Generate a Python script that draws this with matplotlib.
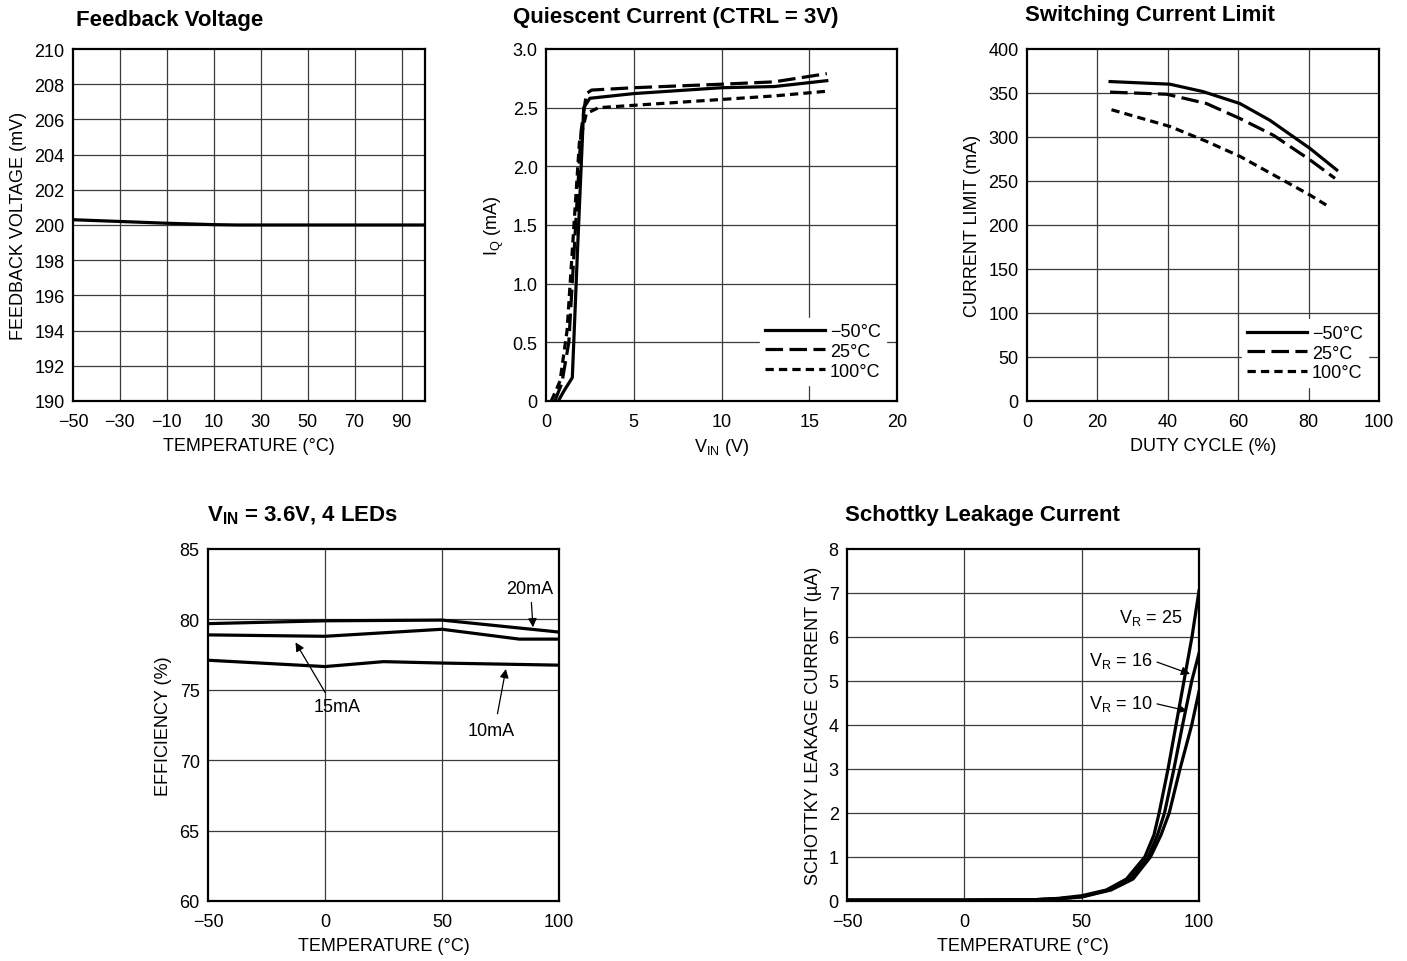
import matplotlib
matplotlib.use('Agg')
import matplotlib.pyplot as plt
import numpy as np

plt.rcParams['font.family'] = ['Liberation Sans Narrow', 'Liberation Sans', 'DejaVu Sans']
plt.rcParams['mathtext.fontset'] = 'custom'
plt.rcParams['mathtext.rm'] = 'Liberation Sans'
plt.rcParams['mathtext.it'] = 'Liberation Sans'
plt.rcParams['mathtext.bf'] = 'Liberation Sans:bold'

# --- Feedback voltage vs temperature
fb_temp = [-50, -30, -10, 10, 20, 30, 50, 70, 90, 100]
fb_volt = [200.3, 200.2, 200.1, 200.02, 200.0, 200.0, 200.0, 200.0, 200.0, 200.0]

# --- Quiescent current vs VIN
iq_vin_m50 = [0.7, 1.0, 1.5, 1.8, 2.15, 2.5, 5, 10, 13, 16]
iq_m50 = [0.0, 0.08, 0.2, 1.3, 2.5, 2.58, 2.62, 2.67, 2.68, 2.73]
iq_vin_25 = [0.5, 0.9, 1.3, 2.0, 2.3, 2.6, 5, 10, 13, 16]
iq_25 = [0.0, 0.15, 0.5, 2.3, 2.62, 2.65, 2.67, 2.7, 2.72, 2.79]
iq_vin_100 = [0.3, 0.8, 1.2, 1.9, 2.3, 3.0, 5, 10, 13, 16]
iq_100 = [0.0, 0.17, 0.6, 2.2, 2.45, 2.5, 2.52, 2.57, 2.6, 2.64]

# --- Switching current limit vs duty cycle
sw_duty = [23.6, 40.6, 50, 60.5, 69, 80.4, 88]
sw_m50 = [363, 360, 351.6, 338, 319, 287, 262.5]
sw_duty_25 = [23.6, 39.7, 51, 60.5, 70, 80.4, 87.5]
sw_25 = [351, 348.6, 338, 321, 302, 274, 253]
sw_duty_100 = [24, 40.6, 51, 60.5, 70, 80.4, 85]
sw_100 = [331, 312, 295, 278, 257, 234, 222.7]

# --- Efficiency vs temperature
eff_t20 = [-50, 0, 50, 100]
eff_20 = [79.7, 79.9, 79.95, 79.1]
eff_t15 = [-50, 0, 50, 83, 100]
eff_15 = [78.9, 78.8, 79.3, 78.6, 78.6]
eff_t10 = [-50, 0, 25, 50, 100]
eff_10 = [77.1, 76.65, 77.0, 76.9, 76.75]

# --- Schottky leakage vs temperature
sk_t25 = [-50, 0, 30, 40, 50, 60.5, 69.1, 76.9, 80.8, 83.0, 86.8, 90.2, 93.6, 97.0, 100]
sk_25 = [0.02, 0.02, 0.03, 0.06, 0.12, 0.25, 0.5, 1.0, 1.5, 2.0, 3.0, 4.0, 5.0, 6.0, 7.05]
sk_t16 = [-50, 0, 30, 40, 50, 61.5, 70.5, 78.3, 82.3, 85.3, 89.3, 93.0, 96.9, 100]
sk_16 = [0.02, 0.02, 0.03, 0.05, 0.1, 0.25, 0.5, 1.0, 1.5, 2.0, 3.0, 4.0, 5.0, 5.63]
sk_t10 = [-50, 0, 30, 40, 50, 62.5, 71.9, 79.3, 83.8, 87.3, 91.9, 96.9, 100]
sk_10 = [0.02, 0.02, 0.03, 0.05, 0.09, 0.25, 0.5, 1.0, 1.5, 2.0, 3.0, 4.0, 4.76]

W, H = 1407, 962
fig = plt.figure(figsize=(W / 100, H / 100), dpi=100)

LW = 2.3
GRID = dict(color='#3a3a3a', lw=0.9)
FS = 13
LONG = (0, (5.5, 2.0))
SHORT = (0, (2.6, 1.6))


def make_ax(left, top, right, bottom):
    ax = fig.add_axes([left / W, 1 - bottom / H, (right - left) / W, (bottom - top) / H])
    for s in ax.spines.values():
        s.set_linewidth(1.6)
    ax.tick_params(length=0, labelsize=FS)
    ax.tick_params(axis='x', pad=9)
    ax.tick_params(axis='y', pad=6)
    ax.set_axisbelow(True)
    return ax


def grid_lines(ax, xs, ys):
    for x in xs:
        ax.axvline(x, **GRID, zorder=0)
    for y in ys:
        ax.axhline(y, **GRID, zorder=0)


def title(x, y, s):
    fig.text(x / W, 1 - y / H, s, fontsize=16, fontweight='bold', ha='left', va='baseline')


# Panel 1
ax1 = make_ax(73, 50, 425, 402)
ax1.plot(fb_temp, fb_volt, color='black', lw=LW)
ax1.set_xlim(-50, 100)
ax1.set_ylim(190, 210)
ax1.set_xticks(range(-50, 91, 20))
ax1.set_xticklabels(['\u221250', '\u221230', '\u221210', '10', '30', '50', '70', '90'])
ax1.set_yticks(range(190, 211, 2))
grid_lines(ax1, range(-30, 91, 20), range(192, 210, 2))
ax1.set_xlabel('TEMPERATURE (\u00b0C)', fontsize=FS, labelpad=5)
ax1.set_ylabel('FEEDBACK VOLTAGE (mV)', fontsize=FS, labelpad=5)
title(76, 26, 'Feedback Voltage')

# Panel 2
ax2 = make_ax(546, 50, 897, 402)
ax2.plot(iq_vin_m50, iq_m50, color='black', lw=LW, label='\u221250\u00b0C')
ax2.plot(iq_vin_25, iq_25, color='black', lw=LW, ls=LONG, label='25\u00b0C')
ax2.plot(iq_vin_100, iq_100, color='black', lw=LW, ls=SHORT, label='100\u00b0C')
ax2.set_xlim(0, 20)
ax2.set_ylim(0, 3)
ax2.set_xticks([0, 5, 10, 15, 20])
ax2.set_yticks([0, 0.5, 1.0, 1.5, 2.0, 2.5, 3.0])
ax2.set_yticklabels(['0', '0.5', '1.0', '1.5', '2.0', '2.5', '3.0'])
grid_lines(ax2, [5, 10, 15], [0.5, 1.0, 1.5, 2.0, 2.5])
ax2.set_xlabel('V$_{\\mathregular{IN}}$ (V)', fontsize=FS, labelpad=4)
ax2.set_ylabel('I$_{\\mathregular{Q}}$ (mA)', fontsize=FS, labelpad=5)
leg = ax2.legend(loc='lower right', frameon=True, fontsize=FS, handlelength=3.3,
                 handletextpad=0.3, borderpad=0.3, labelspacing=0.15,
                 bbox_to_anchor=(0.995, 0.02), fancybox=False, framealpha=1)
leg.get_frame().set_edgecolor('white')
title(513, 23, 'Quiescent Current (CTRL = 3V)')

# Panel 3
ax3 = make_ax(1027, 50, 1379, 402)
ax3.plot(sw_duty, sw_m50, color='black', lw=LW, label='\u221250\u00b0C')
ax3.plot(sw_duty_25, sw_25, color='black', lw=LW, ls=LONG, label='25\u00b0C')
ax3.plot(sw_duty_100, sw_100, color='black', lw=LW, ls=SHORT, label='100\u00b0C')
ax3.set_xlim(0, 100)
ax3.set_ylim(0, 400)
ax3.set_xticks(range(0, 101, 20))
ax3.set_yticks(range(0, 401, 50))
grid_lines(ax3, [20, 40, 60, 80], range(50, 400, 50))
ax3.set_xlabel('DUTY CYCLE (%)', fontsize=FS, labelpad=5)
ax3.set_ylabel('CURRENT LIMIT (mA)', fontsize=FS, labelpad=5)
leg = ax3.legend(loc='lower right', frameon=True, fontsize=FS, handlelength=3.3,
                 handletextpad=0.3, borderpad=0.3, labelspacing=0.15,
                 bbox_to_anchor=(0.995, 0.015), fancybox=False, framealpha=1)
leg.get_frame().set_edgecolor('white')
title(1025, 21, 'Switching Current Limit')

# Panel 4
ax4 = make_ax(208, 550, 559, 902)
for t, e in [(eff_t20, eff_20), (eff_t15, eff_15), (eff_t10, eff_10)]:
    ax4.plot(t, e, color='black', lw=LW)
ax4.set_xlim(-50, 100)
ax4.set_ylim(60, 85)
ax4.set_xticks([-50, 0, 50, 100])
ax4.set_xticklabels(['\u221250', '0', '50', '100'])
ax4.set_yticks(range(60, 86, 5))
grid_lines(ax4, [0, 50], [65, 70, 75, 80])
ax4.set_xlabel('TEMPERATURE (\u00b0C)', fontsize=FS, labelpad=5)
ax4.set_ylabel('EFFICIENCY (%)', fontsize=FS, labelpad=5)
arr = dict(arrowstyle='-|>', color='black', lw=0.9, mutation_scale=13, shrinkA=0, shrinkB=0)
ax4.text(87.5, 82.2, '20mA', fontsize=FS, ha='center', va='center')
ax4.annotate('', xy=(88.9, 79.44), xytext=(88.2, 81.2), arrowprops=arr)
ax4.text(5.3, 73.8, '15mA', fontsize=FS, ha='center', va='center')
ax4.annotate('', xy=(-12.6, 78.37), xytext=(0.1, 74.8), arrowprops=arr)
ax4.text(70.9, 72.1, '10mA', fontsize=FS, ha='center', va='center')
ax4.annotate('', xy=(77.3, 76.48), xytext=(73.7, 73.3), arrowprops=arr)
title(207, 521, 'V$_{\\mathregular{IN}}$ = 3.6V, 4 LEDs')

# Panel 5
ax5 = make_ax(847, 550, 1199, 902)
for t, v in [(sk_t25, sk_25), (sk_t16, sk_16), (sk_t10, sk_10)]:
    ax5.plot(t, v, color='black', lw=LW)
ax5.set_xlim(-50, 100)
ax5.set_ylim(0, 8)
ax5.set_xticks([-50, 0, 50, 100])
ax5.set_xticklabels(['\u221250', '0', '50', '100'])
ax5.set_yticks(range(0, 9))
grid_lines(ax5, [0, 50], range(1, 8))
ax5.set_xlabel('TEMPERATURE (\u00b0C)', fontsize=FS, labelpad=5)
ax5.set_ylabel('SCHOTTKY LEAKAGE CURRENT (\u00b5A)', fontsize=FS, labelpad=5)
for y, s, xr in [(6.45, '25', 93.2), (5.48, '16', 80.4), (4.5, '10', 80.4)]:
    ax5.text(xr, y, 'V$_{\\mathregular{R}}$ = ' + s, fontsize=FS, ha='right', va='center',
             bbox=dict(fc='white', ec='none', pad=1))
ax5.annotate('', xy=(96.2, 5.16), xytext=(82.1, 5.43), arrowprops=arr)
ax5.annotate('', xy=(94.9, 4.32), xytext=(82.1, 4.48), arrowprops=arr)
title(845, 521, 'Schottky Leakage Current')

fig.savefig('out.png', dpi=100)
